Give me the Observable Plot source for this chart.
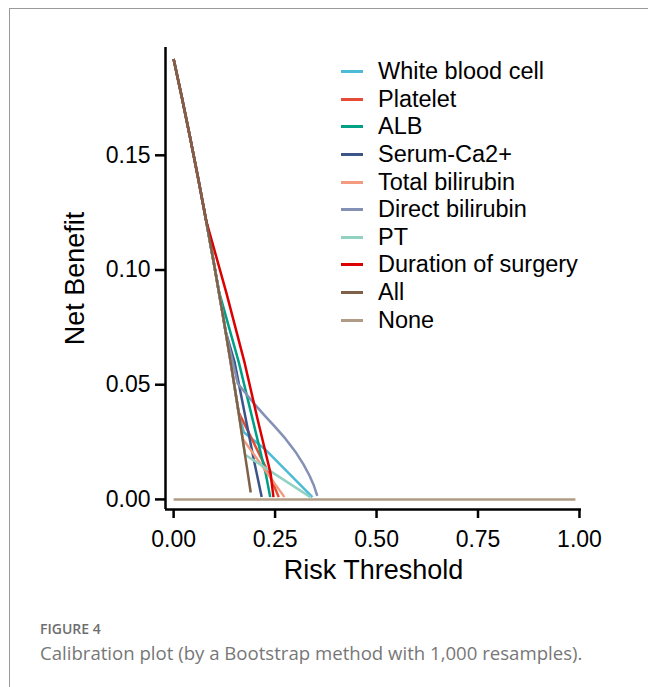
<!DOCTYPE html>
<html><head><meta charset="utf-8">
<script src="https://cdn.jsdelivr.net/npm/d3@7"></script>
<script src="https://cdn.jsdelivr.net/npm/@observablehq/plot@0.6"></script>
<style>
body{margin:0;background:#fff;width:648px;height:687px;overflow:hidden;position:relative;font-family:"Liberation Sans",Arial,sans-serif}
#frame{position:absolute;left:9px;top:8px;width:720px;height:720px;border-left:1px solid #9a9a9a;border-top:1px solid #9a9a9a}
#chart{position:absolute;left:0;top:0}
#legend{position:absolute;left:341px;top:58px}
.row{height:27.6px;display:flex;align-items:center}
.sw{width:22px;height:3px;margin-right:15px}
.lab{font-size:23.5px;color:#000;line-height:27px}
#fig{position:absolute;left:40px;top:619px;font-family:"Open Sans";font-weight:600;font-size:14px;color:#6e6e6e}
#cap{position:absolute;left:40px;top:640px;font-family:"Open Sans";font-size:18.6px;color:#777}
</style></head>
<body>
<div id="frame"></div>
<div id="chart"></div>
<div id="legend"></div>
<div id="fig">FIGURE 4</div>
<div id="cap">Calibration plot (by a Bootstrap method with 1,000 resamples).</div>
<script>
const names = ["White blood cell","Platelet","ALB","Serum-Ca2+","Total bilirubin","Direct bilirubin","PT","Duration of surgery","All","None"];
const colors = ["#4DBBD5","#E64B35","#00A087","#3C5488","#F39B7F","#8491B4","#91D1C2","#DC0000","#7E6148","#B09C85"];
const xTicks = [0, 0.25, 0.5, 0.75, 1];
const yTicks = [0, 0.05, 0.10, 0.15];

// [threshold, net benefit]
const wbc = [[0,0.192],[0.02,0.1755],[0.04,0.1583],[0.06,0.1404],[0.08,0.1217],[0.10,0.1022],[0.12,0.0818],[0.14,0.0605],[0.16,0.0381],[0.173,0.0293],[0.228,0.0214],[0.342,0.001]];
const platelet = [[0,0.192],[0.02,0.1755],[0.04,0.1583],[0.06,0.1404],[0.08,0.1217],[0.10,0.1022],[0.12,0.0818],[0.14,0.0605],[0.16,0.0381],[0.235,0.0112],[0.259,0.001]];
const alb = [[0,0.192],[0.02,0.1755],[0.04,0.1583],[0.06,0.1404],[0.08,0.1217],[0.10,0.1022],[0.112,0.0905],[0.161,0.0595],[0.227,0.0112],[0.238,0.001]];
const serum = [[0,0.192],[0.02,0.1755],[0.04,0.1583],[0.06,0.1404],[0.08,0.1217],[0.10,0.1022],[0.12,0.0818],[0.128,0.0734],[0.150,0.0600],[0.198,0.017],[0.217,0.001]];
const tbil = [[0,0.192],[0.02,0.1755],[0.04,0.1583],[0.06,0.1404],[0.08,0.1217],[0.10,0.1022],[0.12,0.0818],[0.14,0.0605],[0.16,0.0381],[0.17,0.0265],[0.273,0.001]];
const dbil = [[0,0.192],[0.02,0.1755],[0.04,0.1583],[0.06,0.1404],[0.08,0.1217],[0.10,0.1022],[0.12,0.0818],[0.128,0.0734],[0.158,0.0505],[0.175,0.0468],[0.20,0.0414],[0.225,0.0364],[0.25,0.0316],[0.275,0.0266],[0.30,0.0208],[0.32,0.0153],[0.335,0.0103],[0.345,0.0063],[0.354,0.0015]];
const pt = [[0,0.192],[0.02,0.1755],[0.04,0.1583],[0.06,0.1404],[0.08,0.1217],[0.10,0.1022],[0.12,0.0818],[0.14,0.0605],[0.16,0.0381],[0.176,0.0195],[0.337,0.001]];
const duration = [[0,0.192],[0.02,0.1755],[0.04,0.1583],[0.06,0.1404],[0.08,0.1217],[0.13,0.090],[0.175,0.0595],[0.206,0.0356],[0.239,0.0113],[0.246,0.001]];
const all = [[0,0.192],[0.02,0.1755],[0.04,0.1583],[0.06,0.1404],[0.08,0.1217],[0.10,0.1022],[0.12,0.0818],[0.14,0.0605],[0.16,0.0381],[0.18,0.0146],[0.19,0.0030]];
const none = [[0,0],[0.99,0]];

const series = [wbc, platelet, alb, serum, tbil, dbil, pt, duration, all, none];
const table = names.flatMap((name, i) => series[i].map(([t, nb]) => ({name, t, nb})));

const xDomain = [-0.02, 1.005];
const yDomain = [-0.0044, 0.197];
const fmt = d => d.toFixed(2);

const chart = Plot.plot({
  width: 648, height: 600,
  marginLeft: 165, marginRight: 67, marginTop: 47, marginBottom: 91,
  style: {fontFamily: "'Liberation Sans', Arial, sans-serif", background: "transparent", color: "#000"},
  x: {domain: xDomain},
  y: {domain: yDomain},
  color: {domain: names, range: colors},
  marks: [
    Plot.line(table, {x: "t", y: "nb", z: "name", stroke: "name", strokeWidth: 2.5, strokeLinecap: "butt", strokeLinejoin: "round", curve: "linear"}),
    Plot.ruleX([xDomain[0]], {strokeWidth: 2.5, stroke: "#000"}),
    Plot.ruleY([yDomain[0]], {strokeWidth: 2.5, stroke: "#000"}),
    Plot.axisX({ticks: xTicks, tickFormat: fmt, tickSize: 9, tickPadding: 12, strokeWidth: 2.5, fontSize: 23, label: null}),
    Plot.axisY({ticks: yTicks, tickFormat: fmt, tickSize: 10, tickPadding: 5, strokeWidth: 2.5, fontSize: 23, label: null}),
    Plot.text(["Risk Threshold"], {frameAnchor: "bottom", lineAnchor: "middle", textAnchor: "middle", dy: 61, fontSize: 27, fill: "#000"}),
    Plot.text(["Net Benefit"], {frameAnchor: "left", textAnchor: "middle", lineAnchor: "middle", dx: -90, rotate: -90, fontSize: 27, fill: "#000"})
  ]
});
document.getElementById("chart").appendChild(chart);

const legend = document.getElementById("legend");
names.forEach((n, i) => {
  const row = document.createElement("div");
  row.className = "row";
  row.innerHTML = `<span class="sw" style="background:${colors[i]}"></span><span class="lab">${n}</span>`;
  legend.appendChild(row);
});
</script>
</body></html>
